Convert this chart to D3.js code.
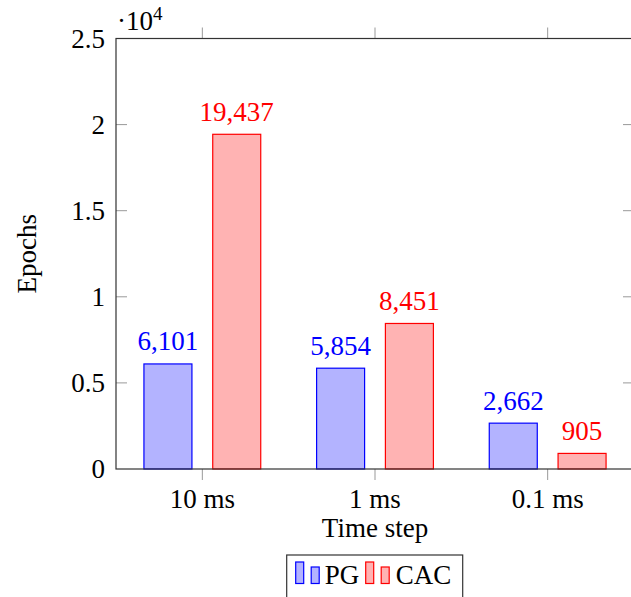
<!DOCTYPE html>
<html>
<head>
<meta charset="utf-8">
<script src="https://cdn.jsdelivr.net/npm/d3@7"></script>
<style>
  body { margin: 0; background: #fff; }
  svg text { font-family: "Liberation Serif", "Times New Roman", Times, serif; }
</style>
</head>
<body>
<svg width="631" height="597"></svg>
<script>
// data
var categories = ["10 ms", "1 ms", "0.1 ms"];
var pgValues = [6101, 5854, 2662];
var cacValues = [19437, 8451, 905];
var yTicks = [0, 0.5, 1, 1.5, 2, 2.5];

var svg = d3.select("svg"),
    margin = { top: 38.5, right: -3, bottom: 128, left: 116 },
    width = +svg.attr("width") - margin.left - margin.right,
    height = +svg.attr("height") - margin.top - margin.bottom;

var blue = "#0000ff", red = "#ff0000";
var blueFill = "#b3b3ff", redFill = "#ffb3b3";
var fs = 27;

// x: category index, with half a step of padding at each side
var x = d3.scaleLinear().domain([-0.5, categories.length - 0.5]).range([0, width]);
var y = d3.scaleLinear().domain([0, 2.5]).range([height, 0]);

var g = svg.append("g").attr("transform", "translate(" + margin.left + "," + margin.top + ")");

var barW = 48, off = 34.4;

var series = [
  { name: "PG", values: pgValues, shift: -off, fill: blueFill, stroke: blue },
  { name: "CAC", values: cacValues, shift: off, fill: redFill, stroke: red }
];

// bars
series.forEach(function (s) {
  g.selectAll(".bar-" + s.name)
    .data(s.values)
    .enter().append("rect")
    .attr("x", function (d, i) { return x(i) + s.shift - barW / 2; })
    .attr("y", function (d) { return y(d / 1e4); })
    .attr("width", barW)
    .attr("height", function (d) { return height - y(d / 1e4); })
    .attr("fill", s.fill)
    .attr("stroke", s.stroke)
    .attr("stroke-width", 1.2);

  g.selectAll(".lab-" + s.name)
    .data(s.values)
    .enter().append("text")
    .attr("x", function (d, i) { return x(i) + s.shift; })
    .attr("y", function (d) { return y(d / 1e4) - 13.5; })
    .attr("text-anchor", "middle")
    .attr("fill", s.stroke)
    .style("font-size", fs + "px")
    .text(function (d) { return d3.format(",")(d); });
});

// y ticks (inside, both sides)
var tickCol = "#999";
yTicks.forEach(function (t) {
  if (t > 0 && t < 2.5) {
    g.append("line").attr("x1", 0).attr("x2", 11).attr("y1", y(t)).attr("y2", y(t))
      .attr("stroke", tickCol).attr("stroke-width", 1);
    g.append("line").attr("x1", width - 11).attr("x2", width).attr("y1", y(t)).attr("y2", y(t))
      .attr("stroke", tickCol).attr("stroke-width", 1);
  }
  g.append("text").attr("x", -11).attr("y", y(t) + 9)
    .attr("text-anchor", "end").style("font-size", fs + "px")
    .text(d3.format("")(t));
});

// x ticks (outside, top and bottom)
categories.forEach(function (c, i) {
  g.append("line").attr("x1", x(i)).attr("x2", x(i)).attr("y1", height).attr("y2", height + 11)
    .attr("stroke", tickCol).attr("stroke-width", 1);
  g.append("line").attr("x1", x(i)).attr("x2", x(i)).attr("y1", 0).attr("y2", -11)
    .attr("stroke", tickCol).attr("stroke-width", 1);
  g.append("text").attr("x", x(i)).attr("y", height + 38.5)
    .attr("text-anchor", "middle").style("font-size", fs + "px").text(c);
});

// frame
g.append("rect").attr("x", 0).attr("y", 0).attr("width", width).attr("height", height)
  .attr("fill", "none").attr("stroke", "#333").attr("stroke-width", 1.2);

// scale multiplier
var mult = svg.append("text").attr("x", 117).attr("y", 30).style("font-size", fs + "px");
mult.append("tspan").text("\u00b710");
mult.append("tspan").attr("dy", -10).style("font-size", "19px").text("4");

// axis titles
svg.append("text").attr("transform", "translate(36," + (margin.top + height / 2) + ") rotate(-90)")
  .attr("text-anchor", "middle").style("font-size", fs + "px").text("Epochs");
svg.append("text").attr("x", margin.left + x(1)).attr("y", 537)
  .attr("text-anchor", "middle").style("font-size", fs + "px").text("Time step");

// legend
var lg = svg.append("g").attr("transform", "translate(286.7,555)");
lg.append("rect").attr("x", 0).attr("y", 0).attr("width", 176).attr("height", 60)
  .attr("fill", "#fff").attr("stroke", "#333").attr("stroke-width", 1.2);
var legendX = [9, 79];
var textX = [38, 109];
series.forEach(function (s, k) {
  lg.append("rect").attr("x", legendX[k]).attr("y", 7).attr("width", 8).attr("height", 21.5)
    .attr("fill", s.fill).attr("stroke", s.stroke).attr("stroke-width", 1.2);
  lg.append("rect").attr("x", legendX[k] + 15.5).attr("y", 12).attr("width", 8).attr("height", 16.5)
    .attr("fill", s.fill).attr("stroke", s.stroke).attr("stroke-width", 1.2);
  lg.append("text").attr("x", textX[k]).attr("y", 29).style("font-size", fs + "px").text(s.name);
});
</script>
</body>
</html>
